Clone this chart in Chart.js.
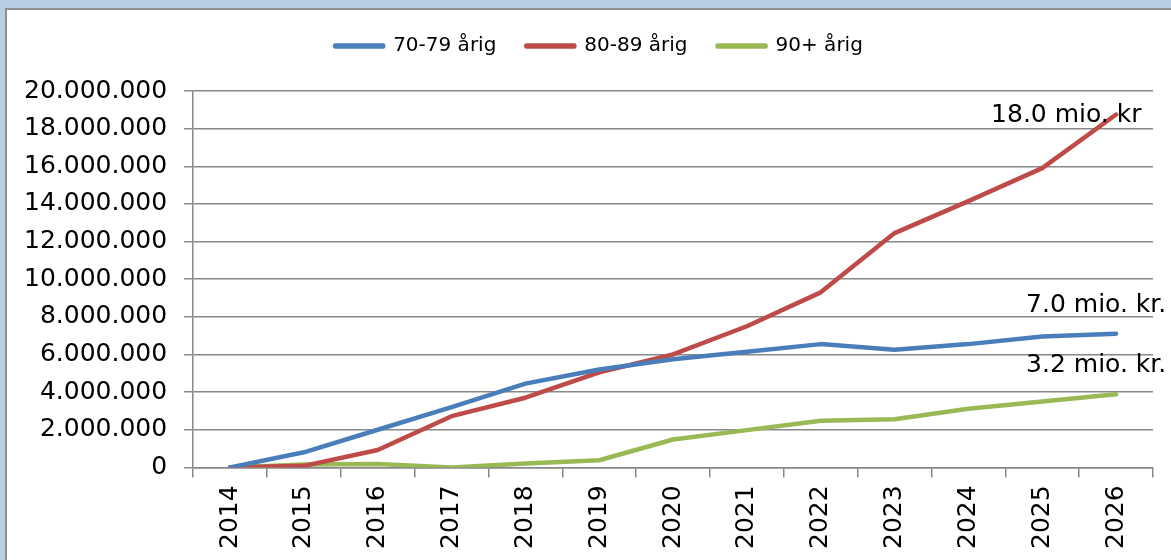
<!DOCTYPE html>
<html><head><meta charset="utf-8">
<script src="https://cdn.jsdelivr.net/npm/chart.js@4.4.0/dist/chart.umd.min.js"></script>
<style>
html,body{margin:0;padding:0;background:#b9cde5;overflow:hidden;}
#wrap{position:absolute;left:0;top:0;width:1171px;height:560px;}
</style></head><body>
<div id="wrap"><canvas id="c" width="1171" height="560"></canvas></div>
<script>
const categories = ['2014','2015','2016','2017','2018','2019','2020','2021','2022','2023','2024','2025','2026'];
const seriesNames = ['70-79 årig','80-89 årig','90+ årig'];
const series7079 = [0, 800000, 2000000, 3200000, 4450000, 5200000, 5750000, 6150000, 6550000, 6250000, 6550000, 6950000, 7100000];
const series8089 = [0, 80000, 920000, 2720000, 3700000, 5050000, 6000000, 7500000, 9300000, 12450000, 14150000, 15900000, 18750000];
const series90 = [0, 150000, 180000, 0, 200000, 380000, 1480000, 1980000, 2480000, 2560000, 3120000, 3500000, 3880000];
const yTickValues = [0, 2000000, 4000000, 6000000, 8000000, 10000000, 12000000, 14000000, 16000000, 18000000, 20000000];
const annotationTexts = ['18.0 mio. kr', '7.0 mio. kr.', '3.2 mio. kr.'];
const annotationValues = [18360000, 8280000, 5080000];

const colors = ['#4a7ebb', '#be4b48', '#98b954'];
const gridColor = '#888888';
const FONT = '"DejaVu Sans", Verdana, sans-serif';

function fmt(v){ return String(Math.round(v)).replace(/\B(?=(\d{3})+(?!\d))/g, '.'); }

const framePlugin = {
  id: 'frame',
  afterLayout(chart){
    if (chart.legend) { chart.legend.left += 19; chart.legend.right += 19; }
  },
  beforeDraw(chart){
    const ctx = chart.ctx;
    ctx.save();
    ctx.fillStyle = '#b9cde5';
    ctx.fillRect(0,0,chart.width,chart.height);
    ctx.fillStyle = '#ffffff';
    ctx.fillRect(6,9,chart.width,chart.height);
    ctx.strokeStyle = '#8f8f8f';
    ctx.lineWidth = 2;
    ctx.beginPath();
    ctx.moveTo(6,chart.height+5);
    ctx.lineTo(6,9);
    ctx.lineTo(chart.width+5,9);
    ctx.stroke();
    ctx.restore();
  }
};

const annotPlugin = {
  id: 'annot',
  afterDatasetsDraw(chart){
    const ctx = chart.ctx;
    const xs = chart.scales.x, ys = chart.scales.y;
    const xEnd = xs.getPixelForValue(categories.length-1);
    const offsets = [-125, -90, -90];
    ctx.save();
    ctx.font = '25px ' + FONT;
    ctx.fillStyle = '#000';
    ctx.textAlign = 'left';
    ctx.textBaseline = 'alphabetic';
    annotationTexts.forEach((t,i)=>{
      ctx.fillText(t, xEnd + offsets[i], ys.getPixelForValue(annotationValues[i]));
    });
    ctx.restore();
  }
};

const data = {
  labels: categories,
  datasets: [series7079, series8089, series90].map((d,i)=>({
    label: seriesNames[i],
    data: d,
    borderColor: colors[i],
    backgroundColor: colors[i],
    borderWidth: 4.5,
    pointRadius: 0,
    pointHoverRadius: 0,
    tension: 0,
    borderCapStyle: 'round',
    borderJoinStyle: 'round'
  }))
};

new Chart(document.getElementById('c'), {
  type: 'line',
  data,
  plugins: [framePlugin, annotPlugin],
  options: {
    responsive: false,
    animation: false,
    devicePixelRatio: 1,
    layout: { padding: { left: 7, right: 18, top: 6, bottom: 3 } },
    plugins: {
      tooltip: { enabled: false },
      legend: {
        position: 'top',
        labels: {
          boxWidth: 48,
          boxHeight: 1,
          padding: 30,
          color: '#000',
          font: { family: FONT, size: 20 }
        }
      },
      subtitle: {
        display: true,
        text: ' ',
        position: 'top',
        weight: 500,
        font: { size: 10 },
        padding: { top: 0, bottom: 13 }
      }
    },
    scales: {
      x: {
        offset: true,
        grid: { offset: true, drawOnChartArea: false, drawTicks: true, tickLength: 10, color: gridColor, lineWidth: 1.5 },
        border: { display: true, color: gridColor, width: 1.5 },
        ticks: { minRotation: 90, maxRotation: 90, padding: 8, color: '#000', font: { family: FONT, size: 25 } }
      },
      y: {
        min: 0, max: 20000000,
        afterBuildTicks(axis){ axis.ticks = yTickValues.map(v=>({value:v})); },
        grid: { color: gridColor, lineWidth: 1.5, tickLength: 9 },
        border: { display: true, color: gridColor, width: 1.5 },
        ticks: { padding: 17, color: '#000', font: { family: FONT, size: 25 }, callback: v => fmt(v) }
      }
    }
  }
});
</script>
</body></html>
